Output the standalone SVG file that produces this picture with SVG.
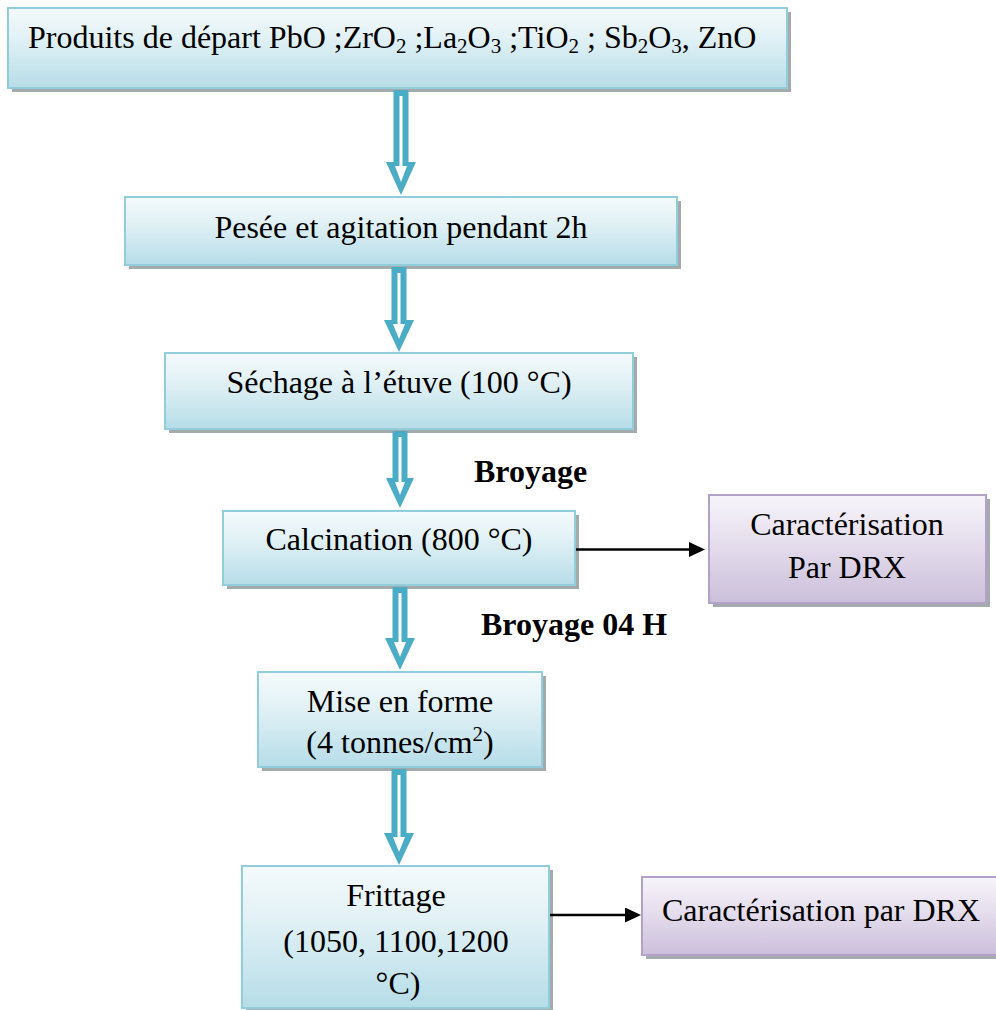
<svg xmlns="http://www.w3.org/2000/svg" width="996" height="1010" viewBox="0 0 996 1010">
<style>
.box{fill:url(#gBlue);stroke:#92cddc;stroke-width:2}
.pbox{fill:url(#gPurple);stroke:#b3a2c7;stroke-width:2}
.shadow{fill:#a3abad}
.t{font-family:"Liberation Serif","Times New Roman",serif;font-size:32px;fill:#000}
.c{text-anchor:middle}
.b{font-weight:bold}
.sub{font-size:21px}
.aout{fill:#4bacc6}
.ain{fill:#fff}
.blk{stroke:#000;stroke-width:2.5;fill:none}
</style>
<defs>
<linearGradient id="gBlue" x1="0" y1="0" x2="0" y2="1">
<stop offset="0" stop-color="#f4fafc"/>
<stop offset="0.35" stop-color="#e3f2f6"/>
<stop offset="1" stop-color="#b6dde8"/>
</linearGradient>
<linearGradient id="gPurple" x1="0" y1="0" x2="0" y2="1">
<stop offset="0" stop-color="#f7f4fa"/>
<stop offset="0.35" stop-color="#e9e3f0"/>
<stop offset="1" stop-color="#cbbfda"/>
</linearGradient>
<marker id="ah" markerUnits="userSpaceOnUse" markerWidth="16" markerHeight="16" refX="6" refY="7.5" orient="auto">
<path d="M0,0 L16,7.5 L0,15 Z" fill="#000"/>
</marker>
</defs>

<g id="node-produits">
<rect class="shadow" x="12" y="12" width="779" height="80"/>
<rect class="box" x="8" y="8" width="779" height="80"/>
<text class="t" x="28" y="48">Produits de départ PbO ;ZrO<tspan class="sub" dy="5">2</tspan><tspan dy="-5"> ;La</tspan><tspan class="sub" dy="5">2</tspan><tspan dy="-5">O</tspan><tspan class="sub" dy="5">3</tspan><tspan dy="-5"> ;TiO</tspan><tspan class="sub" dy="5">2</tspan><tspan dy="-5"> ; Sb</tspan><tspan class="sub" dy="5">2</tspan><tspan dy="-5">O</tspan><tspan class="sub" dy="5">3</tspan><tspan dy="-5">, ZnO</tspan></text>
</g>

<g id="node-pesee">
<rect class="shadow" x="129" y="201" width="552" height="68"/>
<rect class="box" x="125" y="197" width="552" height="68"/>
<text class="t c" x="401" y="238">Pesée et agitation pendant 2h</text>
</g>

<g id="node-sechage">
<rect class="shadow" x="169" y="357" width="468" height="76"/>
<rect class="box" x="165" y="353" width="468" height="76"/>
<text class="t c" x="399" y="393">Séchage à l’étuve (100 °C)</text>
</g>

<g id="node-calcination">
<rect class="shadow" x="227" y="515" width="352" height="74"/>
<rect class="box" x="223" y="511" width="352" height="74"/>
<text class="t c" x="399" y="550">Calcination (800 °C)</text>
</g>

<g id="node-carac1">
<rect class="shadow" x="713" y="499" width="277" height="108"/>
<rect class="pbox" x="709" y="495" width="277" height="108"/>
<text class="t c" x="847" y="535">Caractérisation</text>
<text class="t c" x="847" y="578">Par DRX</text>
</g>

<g id="node-mise">
<rect class="shadow" x="262" y="676" width="284" height="95"/>
<rect class="box" x="258" y="672" width="284" height="95"/>
<text class="t c" x="400" y="712">Mise en forme</text>
<text class="t c" x="400" y="753">(4 tonnes/cm<tspan class="sub" dy="-12">2</tspan><tspan dy="12">)</tspan></text>
</g>

<g id="node-frittage">
<rect class="shadow" x="246" y="870" width="307" height="142"/>
<rect class="box" x="242" y="866" width="307" height="142"/>
<text class="t c" x="396" y="906">Frittage</text>
<text class="t c" x="396" y="952">(1050, 1100,1200</text>
<text class="t c" x="398" y="994">°C)</text>
</g>

<g id="node-carac2">
<rect class="shadow" x="646" y="881" width="360" height="78"/>
<rect class="pbox" x="642" y="877" width="360" height="78"/>
<text class="t c" x="821" y="921">Caractérisation par DRX</text>
</g>

<g id="label-broyage">
<text class="t b" x="474" y="482">Broyage</text>
</g>
<g id="label-broyage04">
<text class="t b" x="481" y="635">Broyage 04 H</text>
</g>

<g id="connectors">
<polygon class="aout" points="393.5,90 408.5,90 408.5,162 416,162 401,195 386,162 393.5,162"/>
<polygon class="ain" points="399.5,96 402.5,96 402.5,166 407,166 401,182 395,166 399.5,166"/>

<polygon class="aout" points="391.5,267 406.5,267 406.5,320 414,320 399,352 384,320 391.5,320"/>
<polygon class="ain" points="397.5,273 400.5,273 400.5,324 405,324 399,339 393,324 397.5,324"/>

<polygon class="aout" points="392.5,431 407.5,431 407.5,478 414,478 400,508 386,478 392.5,478"/>
<polygon class="ain" points="398.5,437 401.5,437 401.5,482 405,482 400,495 395,482 398.5,482"/>

<polygon class="aout" points="392.5,587 407.5,587 407.5,638 415,638 400,670 385,638 392.5,638"/>
<polygon class="ain" points="398.5,593 401.5,593 401.5,642 406,642 400,657 394,642 398.5,642"/>

<polygon class="aout" points="391.5,769 406.5,769 406.5,833 414,833 399,865 384,833 391.5,833"/>
<polygon class="ain" points="397.5,775 400.5,775 400.5,837 405,837 399,852 393,837 397.5,837"/>

<line class="blk" x1="576" y1="549.5" x2="695" y2="549.5" marker-end="url(#ah)"/>
<line class="blk" x1="550" y1="915" x2="631" y2="915" marker-end="url(#ah)"/>
</g>
</svg>
